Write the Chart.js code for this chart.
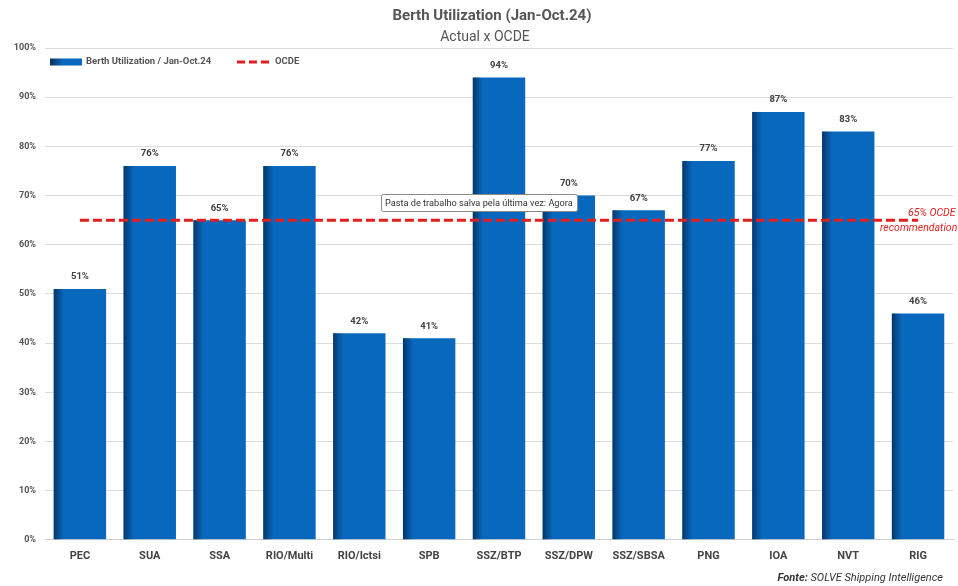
<!DOCTYPE html>
<html>
<head>
<meta charset="utf-8">
<script src="https://cdn.jsdelivr.net/npm/chart.js@4.4.1/dist/chart.umd.min.js"></script>
<style>
  html, body { margin: 0; padding: 0; background: #ffffff; }
  #wrap { width: 958px; height: 586px; position: relative; }
</style>
</head>
<body>
<div id="wrap"><canvas id="chart" width="958" height="586"></canvas></div>
<script>
// Terminals and berth utilization (%) for Jan–Oct 2024
const terminals = ['PEC', 'SUA', 'SSA', 'RIO/Multi', 'RIO/Ictsi', 'SPB', 'SSZ/BTP', 'SSZ/DPW', 'SSZ/SBSA', 'PNG', 'IOA', 'NVT', 'RIG'];
const utilization = [51, 76, 65, 76, 42, 41, 94, 70, 67, 77, 87, 83, 46];
// OCDE recommended ceiling (%)
const ocdeLevel = 65;
const ocdeSeries = terminals.map(() => ocdeLevel);
const yTicks = [0, 10, 20, 30, 40, 50, 60, 70, 80, 90, 100];

const titleText = 'Berth Utilization (Jan-Oct.24)';
const subtitleText = 'Actual x OCDE';
const barLegend = 'Berth Utilization / Jan-Oct.24';
const lineLegend = 'OCDE';
const noteLines = ['65% OCDE', 'recommendation'];
const savedNote = 'Pasta de trabalho salva pela última vez: Agora';
const sourceBold = 'Fonte:';
const sourceText = ' SOLVE Shipping Intelligence';

const FONT = 'Roboto, "Liberation Sans", Arial, sans-serif';
const BAR_BLUE = '#0868bd';
const RED = '#e01f1f';

// Dark shading along the left edge of every bar
const barShade = {
  id: 'barShade',
  afterDatasetDraw(chart, args) {
    if (args.index !== 0) return;
    const ctx = chart.ctx;
    const meta = args.meta;
    ctx.save();
    meta.data.forEach(bar => {
      const left = bar.x - bar.width / 2;
      const top = bar.y;
      const h = bar.base - bar.y;
      const g = ctx.createLinearGradient(left, 0, left + 10, 0);
      g.addColorStop(0, 'rgba(4,28,60,0.65)');
      g.addColorStop(1, 'rgba(4,28,60,0)');
      ctx.fillStyle = g;
      ctx.fillRect(left, top, 10, h);
    });
    ctx.restore();
  }
};

// Titles, legend, value labels, notes
const decorations = {
  id: 'decorations',
  afterDraw(chart) {
    const ctx = chart.ctx;
    ctx.save();

    // title + subtitle
    ctx.textAlign = 'center';
    ctx.textBaseline = 'middle';
    ctx.fillStyle = '#555555';
    ctx.font = 'bold 15px ' + FONT;
    ctx.fillText(titleText, 492, 16);
    ctx.font = '14px ' + FONT;
    ctx.fillText(subtitleText, 485, 37);

    // legend
    const lx = 50, ly = 62;
    const lg = ctx.createLinearGradient(lx, 0, lx + 32, 0);
    lg.addColorStop(0, '#0a2f5c');
    lg.addColorStop(0.4, BAR_BLUE);
    lg.addColorStop(1, BAR_BLUE);
    ctx.fillStyle = lg;
    ctx.fillRect(lx, ly - 3.5, 32, 7);
    ctx.font = 'bold 9.5px ' + FONT;
    ctx.textAlign = 'left';
    ctx.fillStyle = '#555555';
    ctx.fillText(barLegend, 86, ly);
    ctx.strokeStyle = RED;
    ctx.lineWidth = 3;
    ctx.setLineDash([8, 4]);
    ctx.beginPath();
    ctx.moveTo(237, ly);
    ctx.lineTo(269, ly);
    ctx.stroke();
    ctx.setLineDash([]);
    ctx.fillText(lineLegend, 275, ly);

    // value labels above bars
    const meta = chart.getDatasetMeta(0);
    ctx.textAlign = 'center';
    ctx.font = 'bold 9.5px ' + FONT;
    ctx.fillStyle = '#404040';
    meta.data.forEach((bar, i) => {
      ctx.fillText(utilization[i] + '%', bar.x, bar.y - 12);
    });

    // OCDE note at right end of the line
    const yLine = chart.scales.y.getPixelForValue(ocdeLevel);
    ctx.font = 'italic 10.5px ' + FONT;
    ctx.fillStyle = RED;
    ctx.textAlign = 'left';
    ctx.fillText(noteLines[0], 908, yLine - 7);
    ctx.fillText(noteLines[1], 880, yLine + 8);

    // autosave notice box
    const bx = 381, by = 194, bw = 196, bh = 17;
    ctx.fillStyle = '#ffffff';
    ctx.strokeStyle = '#8a8a8a';
    ctx.lineWidth = 1;
    ctx.beginPath();
    ctx.roundRect(bx + 0.5, by + 0.5, bw, bh, 2);
    ctx.fill();
    ctx.stroke();
    ctx.fillStyle = '#333333';
    ctx.font = '9.2px ' + FONT;
    ctx.textAlign = 'left';
    ctx.fillText(savedNote, bx + 4, by + bh / 2 + 1);

    // source
    ctx.font = 'bold italic 11px ' + FONT;
    ctx.fillStyle = '#333333';
    const sw = ctx.measureText(sourceBold).width;
    ctx.font = 'italic 11px ' + FONT;
    const tw = ctx.measureText(sourceText).width;
    const sx = 943 - sw - tw;
    ctx.font = 'bold italic 11px ' + FONT;
    ctx.fillText(sourceBold, sx, 578);
    ctx.font = 'italic 11px ' + FONT;
    ctx.fillText(sourceText, sx + sw, 578);

    ctx.restore();
  }
};

new Chart(document.getElementById('chart'), {
  data: {
    labels: terminals,
    datasets: [
      {
        type: 'bar',
        label: barLegend,
        data: utilization,
        backgroundColor: BAR_BLUE,
        borderWidth: 0,
        barPercentage: 0.75,
        categoryPercentage: 1.0,
        order: 2
      },
      {
        type: 'line',
        label: lineLegend,
        data: ocdeSeries,
        borderColor: RED,
        borderWidth: 3,
        borderDash: [9, 4],
        pointRadius: 0,
        fill: false,
        order: 1
      }
    ]
  },
  options: {
    responsive: false,
    animation: false,
    layout: { padding: { top: 48, right: 5, bottom: 13, left: 0 } },
    plugins: {
      legend: { display: false },
      title: { display: false },
      tooltip: { enabled: false }
    },
    scales: {
      x: {
        grid: { display: false, drawTicks: false },
        border: { display: true, color: '#d0d0d0' },
        ticks: {
          color: '#444444',
          font: { family: FONT, size: 11, weight: 'bold' },
          padding: 10,
          maxRotation: 0,
          autoSkip: false
        }
      },
      y: {
        min: 0,
        max: 100,
        afterBuildTicks: scale => { scale.ticks = yTicks.map(v => ({ value: v })); },
        afterFit: scale => { scale.width = 45; },
        grid: { color: '#dcdcdc', drawTicks: false, lineWidth: 1 },
        border: { display: false },
        ticks: {
          color: '#555555',
          font: { family: FONT, size: 9, weight: 'bold' },
          padding: 9,
          callback: v => v + '%'
        }
      }
    }
  },
  plugins: [barShade, decorations]
});
</script>
</body>
</html>
